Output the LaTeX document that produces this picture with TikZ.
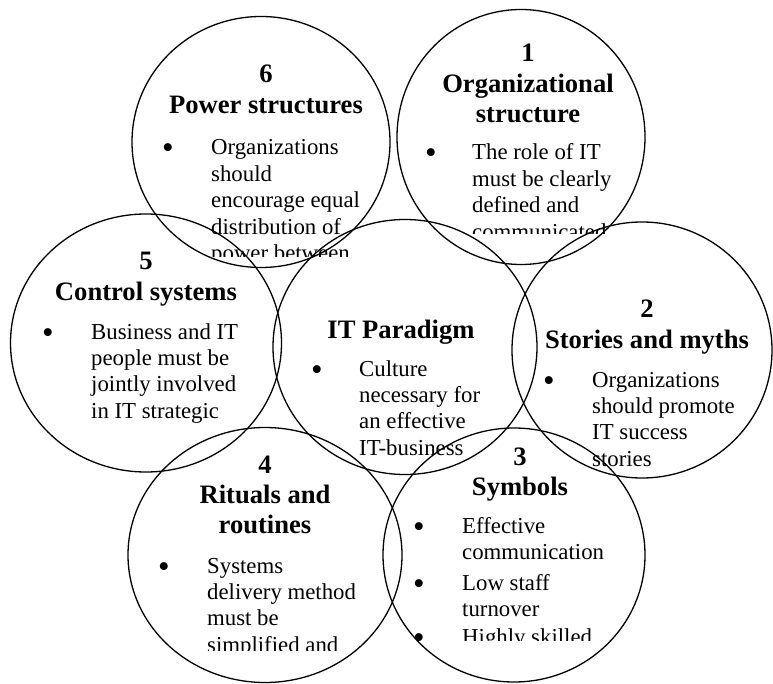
\documentclass[tikz,border=0pt]{standalone}
\usepackage{fontspec}
\setmainfont{Liberation Serif}
\usetikzlibrary{shapes.geometric}
\newcommand\ttlblock[1]{\vtop{\hsize=300pt\parindent=0pt\centering\fontsize{26.6pt}{30.2pt}\bfseries\selectfont #1\par}}
\newcommand\bodyblock[1]{\vtop{\hsize=300pt\parindent=0pt\raggedright\fontsize{22.8pt}{26.4pt}\selectfont #1\par}}
\tikzset{
  ring/.style={ellipse, draw, line width=1.3pt, inner sep=0pt},
  ttl/.style={anchor=base, inner sep=0pt},
  bodytxt/.style={anchor=base west, inner sep=0pt},
  bul/.style={anchor=base, inner sep=0pt, yshift=-4pt, font=\fontsize{33pt}{33pt}\selectfont}
}
\begin{document}
\begin{tikzpicture}[x=1pt, y=-1pt]
\useasboundingbox (0,0) rectangle (773,684);
% circles
\node[ring, minimum width=258pt, minimum height=251pt] (c6) at (261,142) {};
\node[ring, minimum width=248pt, minimum height=255pt] (c1) at (521,137) {};
\node[ring, minimum width=271pt, minimum height=258pt] (c5) at (146,343) {};
\node[ring, minimum width=264pt, minimum height=255pt] (cit) at (405,347) {};
\node[ring, minimum width=260pt, minimum height=256pt] (c2) at (642,350) {};
\node[ring, minimum width=274pt, minimum height=255pt] (c4) at (265,555) {};
\node[ring, minimum width=262pt, minimum height=254pt] (c3) at (514,555) {};
% 6
\node[ttl] (t6) at (266,83) {\ttlblock{6\\Power structures}};
\node[bul] (b6) at (168,155) {•};
\begin{scope}
\clip (140,130) rectangle (400,257);
\node[bodytxt] (x6) at (211,155) {\bodyblock{Organizations\\should\\encourage equal\\distribution of\\power between}};
\end{scope}
% 1
\node[ttl] (t1) at (528,62) {\ttlblock{1\\Organizational\\structure}};
\node[bul] (b1) at (431,160) {•};
\begin{scope}
\clip (400,135) rectangle (660,234);
\node[bodytxt] (x1) at (472,160) {\bodyblock{The role of IT\\must be clearly\\defined and\\communicated}};
\end{scope}
% 5
\node[ttl] (t5) at (146,270) {\ttlblock{5\\Control systems}};
\node[bul] (b5) at (48,339) {•};
\node[bodytxt] (x5) at (91,339) {\bodyblock{Business and IT\\people must be\\jointly involved\\in IT strategic}};
% IT
\node[ttl] (tit) at (401,338) {\ttlblock{IT Paradigm}};
\node[bul] (bit) at (317,376) {•};
\node[bodytxt] (xit) at (359,376) {\bodyblock{Culture\\necessary for\\an effective\\IT-business}};
% 2
\node[ttl] (t2) at (647,318) {\ttlblock{2\\Stories and myths}};
\node[bul] (b2) at (549,387) {•};
\node[bodytxt] (x2) at (592,387) {\bodyblock{Organizations\\should promote\\IT success\\stories}};
% 4
\node[ttl] (t4) at (265,473) {\ttlblock{4\\Rituals and\\routines}};
\node[bul] (b4) at (164,573) {•};
\begin{scope}
\clip (140,550) rectangle (400,650);
\node[bodytxt] (x4) at (207,573) {\bodyblock{Systems\\delivery method\\must be\\simplified and}};
\end{scope}
% 3
\node[ttl] (t3) at (520,465) {\ttlblock{3\\Symbols}};
\node[bul] (b3a) at (419,533) {•};
\node[bodytxt] (x3a) at (462,533) {\bodyblock{Effective\\communication}};
\node[bul] (b3b) at (419,590) {•};
\node[bodytxt] (x3b) at (462,590) {\bodyblock{Low staff\\turnover}};
\begin{scope}
\clip (390,620) rectangle (660,640.5);
\node[bul] (b3c) at (419,644) {•};
\node[bodytxt] (x3c) at (462,644) {\bodyblock{Highly skilled}};
\end{scope}
\end{tikzpicture}
\end{document}
